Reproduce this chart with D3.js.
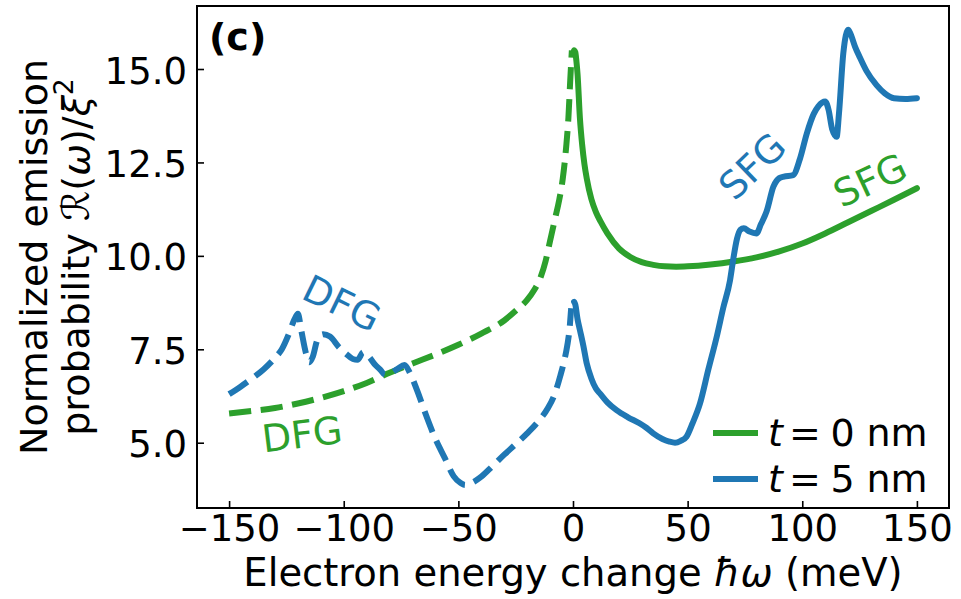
<!DOCTYPE html>
<html>
<head>
<meta charset="utf-8">
<script src="https://cdn.jsdelivr.net/npm/d3@7/dist/d3.min.js"></script>
<style>
  html, body { margin: 0; padding: 0; background: #fff; }
  svg { display: block; font-family: "DejaVu Sans", sans-serif; }
</style>
</head>
<body>
<svg id="chart" width="961" height="599"></svg>
<script>
// Emission probability spectra for two thicknesses (DFG side dashed, SFG side solid)
const xTicks = [-150, -100, -50, 0, 50, 100, 150];
const yTicks = [5.0, 7.5, 10.0, 12.5, 15.0];

// t = 0 nm, DFG branch (negative energy change)
const green0DfgX = [-150, -140, -130, -120, -110, -100, -90, -80, -70, -60, -50, -40, -30, -25, -20, -17, -14, -12, -10, -8, -6, -4.5, -3, -2, -1.2, -0.5];
const green0DfgY = [5.78, 5.85, 5.93, 6.05, 6.2, 6.38, 6.6, 6.87, 7.12, 7.36, 7.62, 7.92, 8.27, 8.53, 8.82, 9.08, 9.45, 9.85, 10.4, 10.95, 11.5, 12.05, 12.9, 13.7, 14.7, 15.5];
// t = 0 nm, SFG branch
const green0SfgX = [0.5, 1, 1.5, 2, 3, 4, 5, 6, 8, 10, 12, 15, 20, 25, 30, 35, 40, 45, 50, 60, 70, 80, 90, 100, 110, 120, 130, 140, 150];
const green0SfgY = [15.5, 15.45, 15.2, 14.85, 13.7, 12.97, 12.45, 12.07, 11.52, 11.17, 10.92, 10.6, 10.2, 9.97, 9.83, 9.76, 9.72, 9.71, 9.72, 9.77, 9.85, 9.96, 10.12, 10.33, 10.6, 10.9, 11.2, 11.5, 11.81];

// t = 5 nm, DFG branch
const blue5DfgX = [-150, -145, -140, -135, -130, -127, -124, -121.5, -120, -118.5, -116.5, -115, -113.5, -111.5, -109, -106, -102, -99, -96, -94, -91.5, -89, -86.5, -84, -82, -79.5, -76.5, -73.5, -71, -68, -64, -60, -56, -52, -49, -47, -44, -40, -35, -30, -25, -20, -15, -11, -8, -5.5, -4, -2.5, -1.5, -0.8];
const blue5DfgY = [6.3, 6.5, 6.72, 6.96, 7.27, 7.5, 7.9, 8.3, 8.45, 8.0, 7.4, 7.15, 7.3, 7.75, 7.9, 7.84, 7.55, 7.38, 7.24, 7.22, 7.42, 7.3, 7.1, 6.95, 6.82, 6.86, 6.98, 7.08, 6.85, 6.4, 5.72, 5.1, 4.6, 4.1, 3.92, 3.87, 3.93, 4.09, 4.38, 4.68, 4.96, 5.25, 5.58, 5.92, 6.3, 6.8, 7.15, 7.6, 8.05, 8.6];
// t = 5 nm, SFG branch
const blue5SfgX = [0.5, 1, 2, 3, 4.5, 6, 8, 10, 12, 15, 19, 24, 29, 32, 35, 39, 42, 44.5, 47, 49.5, 52, 55.4, 59, 62.7, 65.5, 68.5, 70, 71.5, 73, 74.5, 77, 80, 82, 84.5, 87.4, 90, 92, 96, 99, 102, 105, 107, 110, 111.5, 113, 115, 116, 117.9, 119, 120, 121, 123, 125.2, 128, 132.4, 136, 140, 145, 150];
const blue5SfgY = [8.77, 8.7, 8.3, 8.02, 7.6, 7.12, 6.72, 6.45, 6.3, 6.08, 5.87, 5.68, 5.52, 5.4, 5.25, 5.1, 5.03, 5.0, 5.05, 5.16, 5.5, 6.05, 6.95, 7.84, 8.6, 9.35, 9.95, 10.45, 10.7, 10.74, 10.65, 10.6, 10.85, 11.2, 11.85, 12.08, 12.12, 12.16, 12.6, 13.28, 13.8, 14.0, 14.13, 13.9, 13.4, 13.19, 13.8, 15.42, 15.9, 16.05, 15.95, 15.6, 15.3, 14.95, 14.57, 14.35, 14.22, 14.2, 14.22];

const legendLabels = ["0", "5"];
const GREEN = "#2ca02c", BLUE = "#1f77b4";
const FS = 38;      // annotation / label size
const TICK_FS = 37; // tick label size

const svg = d3.select("#chart");
const plot = { left: 197, right: 949, top: 6, bottom: 508 };

const x = d3.scaleLinear().domain([-164, 164]).range([plot.left, plot.right]);
const y = d3.scaleLinear().domain([3.253, 16.686]).range([plot.bottom, plot.top]);

const zip = (xs, ys) => xs.map((v, i) => [v, ys[i]]);
const line = d3.line().x(d => x(d[0])).y(d => y(d[1])).curve(d3.curveMonotoneX);

const lw = 6;
const dash = `${3.7 * lw},${1.6 * lw}`;

const series = [
  { data: zip(green0DfgX, green0DfgY), color: GREEN, dashed: true },
  { data: zip(green0SfgX, green0SfgY), color: GREEN, dashed: false },
  { data: zip(blue5DfgX, blue5DfgY), color: BLUE, dashed: true },
  { data: zip(blue5SfgX, blue5SfgY), color: BLUE, dashed: false }
];

svg.append("defs").append("clipPath").attr("id", "clip")
  .append("rect").attr("x", plot.left).attr("y", plot.top)
  .attr("width", plot.right - plot.left).attr("height", plot.bottom - plot.top);

const g = svg.append("g").attr("clip-path", "url(#clip)");
series.forEach(s => {
  g.append("path")
    .attr("d", line(s.data))
    .attr("fill", "none")
    .attr("stroke", s.color)
    .attr("stroke-width", lw)
    .attr("stroke-linejoin", "round")
    .attr("stroke-linecap", s.dashed ? "butt" : "round")
    .attr("stroke-dasharray", s.dashed ? dash : null);
});

// Axes with inward ticks
const xAxis = d3.axisBottom(x).tickValues(xTicks).tickSize(-7).tickPadding(7)
  .tickFormat(d3.format("d"));
const yAxis = d3.axisLeft(y).tickValues(yTicks).tickSize(-7).tickPadding(10)
  .tickFormat(d3.format(".1f"));

const gx = svg.append("g").attr("transform", `translate(0,${plot.bottom})`).call(xAxis);
const gy = svg.append("g").attr("transform", `translate(${plot.left},0)`).call(yAxis);
[gx, gy].forEach(ax => {
  ax.select(".domain").remove();
  ax.selectAll(".tick line").attr("stroke", "#000").attr("stroke-width", 1.6);
  ax.selectAll(".tick text").attr("fill", "#000")
    .attr("font-family", "DejaVu Sans").attr("font-size", TICK_FS);
});
gy.selectAll(".tick text").attr("dy", "0.38em");

// Frame
svg.append("rect")
  .attr("x", plot.left).attr("y", plot.top)
  .attr("width", plot.right - plot.left).attr("height", plot.bottom - plot.top)
  .attr("fill", "none").attr("stroke", "#000").attr("stroke-width", 2);

// Panel tag
svg.append("text").attr("x", 209).attr("y", 50)
  .attr("font-size", FS).attr("font-weight", "bold").text("(c)");

// X label
const xl = svg.append("text").attr("x", 573).attr("y", 586)
  .attr("text-anchor", "middle").attr("font-size", 38.5);
xl.append("tspan").text("Electron energy change ");
xl.append("tspan").attr("font-style", "italic").text("ħω");
xl.append("tspan").text(" (meV)");

// Y label (two lines)
const yl = svg.append("g").attr("transform", "translate(0,257) rotate(-90)");
yl.append("text").attr("x", 0).attr("y", 46.5).attr("text-anchor", "middle")
  .attr("font-size", FS).text("Normalized emission");
const yl2 = yl.append("text").attr("x", 0).attr("y", 89).attr("text-anchor", "middle")
  .attr("font-size", FS);
yl2.append("tspan").text("probability ");
yl2.append("tspan").attr("font-style", "italic").text("ℛ");
yl2.append("tspan").text("(");
yl2.append("tspan").attr("font-style", "italic").text("ω");
yl2.append("tspan").text(")/");
yl2.append("tspan").attr("font-style", "italic").text("ξ");
yl2.append("tspan").attr("font-size", FS * 0.7).attr("dy", "-0.6em").text("2");

// Curve annotations
const notes = [
  { text: "DFG", cx: 342, cy: 303, angle: 26, color: BLUE },
  { text: "DFG", cx: 302, cy: 434, angle: -7, color: GREEN },
  { text: "SFG", cx: 752, cy: 166, angle: -44, color: BLUE },
  { text: "SFG", cx: 870, cy: 180, angle: -25, color: GREEN }
];
notes.forEach(n => {
  svg.append("text")
    .attr("transform", `translate(${n.cx},${n.cy}) rotate(${n.angle})`)
    .attr("text-anchor", "middle").attr("dy", "0.36em")
    .attr("font-size", FS).attr("fill", n.color).text(n.text);
});

// Legend
const legend = svg.append("g");
[GREEN, BLUE].forEach((c, i) => {
  const base = 446 + i * 46;
  legend.append("line")
    .attr("x1", 713).attr("x2", 758)
    .attr("y1", base - 13).attr("y2", base - 13)
    .attr("stroke", c).attr("stroke-width", lw);
  const t = legend.append("text").attr("x", 768).attr("y", base).attr("font-size", FS);
  t.append("tspan").attr("font-style", "italic").text("t");
  t.append("tspan").attr("dx", "0.16em").text("=");
  t.append("tspan").attr("dx", "0.255em").text(legendLabels[i]);
  t.append("tspan").attr("dx", "0.31em").text("nm");
});
</script>
</body>
</html>
